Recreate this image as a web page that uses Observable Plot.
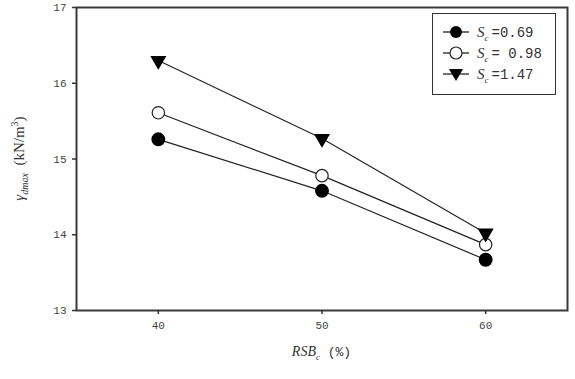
<!DOCTYPE html>
<html><head><meta charset="utf-8">
<script src="https://cdn.jsdelivr.net/npm/d3@7"></script>
<script src="https://cdn.jsdelivr.net/npm/@observablehq/plot@0.6"></script>
<style>
body{margin:0;background:#fff}
#wrap{position:relative;width:575px;height:379px}
#legend{position:absolute;left:432px;top:13px;width:122px;height:80px;border:1.5px solid #333;background:#fff}
</style>
</head><body><div id="wrap"></div>
<script>
// data
const rsb = [40, 50, 60];
const seriesNames = ["0.69", "0.98", "1.47"];
const legendLabels = ["=0.69", "= 0.98", "=1.47"];
const gamma069 = [15.26, 14.58, 13.67];
const gamma098 = [15.61, 14.78, 13.87];
const gamma147 = [16.30, 15.27, 14.02];
const xTicks = [40, 50, 60];
const yTicks = [13, 14, 15, 16, 17];

const values = [gamma069, gamma098, gamma147];
const data = [];
seriesNames.forEach((s, i) => rsb.forEach((x, j) => data.push({s, x, y: values[i][j]})));
const sub = s => data.filter(d => d.s === s);

const W = 575, H = 379, mL = 76, mT = 7, mR = 8, mB = 69;
const tickFont = "Liberation Mono, DejaVu Sans Mono, monospace";

const chart = Plot.plot({
  width: W, height: H,
  marginLeft: mL, marginTop: mT, marginRight: mR, marginBottom: mB,
  style: {fontFamily: tickFont, fontSize: "10px", color: "#444", background: "#fff"},
  x: {domain: [35, 65]},
  y: {domain: [13, 17]},
  marks: [
    Plot.line(data, {x: "x", y: "y", z: "s", stroke: "#222", strokeWidth: 1.2}),
    Plot.dot(sub("0.69"), {x: "x", y: "y", r: 6.2, fill: "#000", stroke: "#000"}),
    Plot.dot(sub("0.98"), {x: "x", y: "y", r: 6.2, fill: "#fff", stroke: "#222", strokeWidth: 1.2}),
    Plot.dot(sub("1.47"), {x: "x", y: "y", r: 5, symbol: "triangle", rotate: 180, fill: "#000", stroke: "#000"}),
    Plot.frame({stroke: "#3a3a3a", strokeWidth: 2}),
    Plot.axisX({ticks: xTicks, tickFormat: d3.format("d"), tickSize: 4, tickPadding: 7, label: null, stroke: "#333", strokeWidth: 1.5, fill: "#444", fontFamily: tickFont, fontSize: 11}),
    Plot.axisY({ticks: yTicks, tickFormat: d3.format("d"), tickSize: 4, tickPadding: 6, label: null, stroke: "#333", strokeWidth: 1.5, fill: "#444", fontFamily: tickFont, fontSize: 11})
  ]
});

const svg = d3.select(chart);
const serif = "Liberation Serif, DejaVu Serif, serif";
// y label
const yl = svg.append("text")
  .attr("transform", `translate(24,${mT + (H - mT - mB) / 2}) rotate(-90)`)
  .attr("text-anchor", "middle").attr("fill", "#333")
  .style("font-family", serif).style("font-size", "15px");
yl.append("tspan").style("font-style", "italic").text("γ");
yl.append("tspan").style("font-style", "italic").style("font-size", "10px").attr("dy", 4).text("dmax");
yl.append("tspan").attr("dy", -4).text("\u2002(kN/m");
yl.append("tspan").style("font-size", "10px").attr("dy", -6).text("3");
yl.append("tspan").attr("dy", 6).text(")");
// x label
const xl = svg.append("text")
  .attr("x", mL + (W - mL - mR) / 2).attr("y", 356)
  .attr("text-anchor", "middle").attr("fill", "#333")
  .style("font-family", serif).style("font-size", "14px");
xl.append("tspan").style("font-style", "italic").text("RSB");
xl.append("tspan").style("font-style", "italic").style("font-size", "9px").attr("dy", 4).text("c");
xl.append("tspan").attr("dy", -4).style("font-family", tickFont).style("font-size", "13px").text(" (%)");

const wrap = document.getElementById("wrap");
wrap.appendChild(chart);

// legend
const leg = document.createElement("div");
leg.id = "legend";
wrap.appendChild(leg);
const ls = d3.select(leg).append("svg").attr("width", 122).attr("height", 80);
seriesNames.forEach((s, i) => {
  const cy = 18 + i * 21;
  const g = ls.append("g");
  g.append("line").attr("x1", 10).attr("x2", 36).attr("y1", cy).attr("y2", cy).attr("stroke", "#222").attr("stroke-width", 1.3);
  if (i === 0) g.append("circle").attr("cx", 23).attr("cy", cy).attr("r", 6).attr("fill", "#000");
  if (i === 1) g.append("circle").attr("cx", 23).attr("cy", cy).attr("r", 6).attr("fill", "#fff").attr("stroke", "#222").attr("stroke-width", 1.2);
  if (i === 2) g.append("path").attr("d", `M${23-7},${cy-5}L${23+7},${cy-5}L23,${cy+7}Z`).attr("fill", "#000");
  const t = g.append("text").attr("x", 44).attr("y", cy + 5).attr("fill", "#333").style("font-family", serif).style("font-size", "15px");
  t.append("tspan").style("font-style", "italic").text("S");
  t.append("tspan").style("font-style", "italic").style("font-size", "9px").attr("dy", 4).text("c");
  t.append("tspan").attr("dy", -4).attr("dx", 3).style("font-family", tickFont).style("font-size", "14px").text(legendLabels[i]);
});
</script>
</body></html>
